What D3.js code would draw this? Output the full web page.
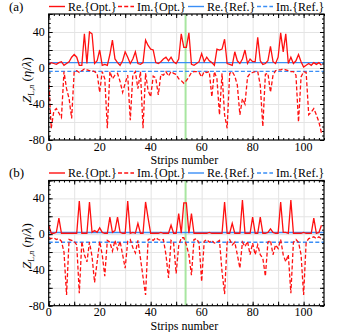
<!DOCTYPE html>
<html lang="en">
<head>
<meta charset="UTF-8">
<title>Z_Ln vs strips</title>
<script src="https://cdn.jsdelivr.net/npm/d3@7"></script>
<style>
  body { margin: 0; background: #fff; }
  svg text { font-family: "Liberation Serif", "Times New Roman", serif; fill: #000; }
  .grid line { stroke: #e4e4e4; stroke-width: 1; }
  .grid path { display: none; }
  .ticks path { display: none; }
  .ticks line { stroke: #000; stroke-width: 1; }
</style>
</head>
<body>
<script>
// strip index 0..107
const strips = d3.range(0, 108);

const reOptA = [4, 6, 5, 4, 6, 7, 3, 5, 7, 12,
  15, 12, 3, 3, 38, 5, 40, 38, 5, 8,
  20, 3, 4, 3, 15, 31, 10, 6, 3, 8,
  18, 12, 5, 10, 18, 5, 4, 6, 31, 25,
  21, 20, 6, 5, 7, 10, 12, 8, 12, 7,
  5, 10, 38, 23, 23, 39, 4, 3, 5, 7,
  16, 7, 12, 8, 6, 3, 21, 20, 21, 32,
  5, 4, 3, 18, 8, 5, 10, 20, 5, 10,
  7, 7, 34, 8, 4, 5, 8, 24, 7, 5,
  12, 39, 18, 38, 5, 12, 5, 8, 15, 7,
  1, 3, 5, 3, 6, 4, 6, 3];

const imOptA = [-12, -67, -48, -45, -50, -55, -4, -23, -34, -56,
  -4, -3, -5, -3, -1, -2, -3, -3, -4, -6,
  -27, -4, -12, -67, -4, -12, -8, -6, -15, -27,
  -17, -8, -58, -8, -4, -23, -4, -67, -6, -25,
  -32, -9, -11, -30, -7, -8, -4, -9, -4, -6,
  -7, -12, -14, -17, -14, -10, -5, -4, -4, -5,
  -10, -4, -5, -4, -32, -4, -12, -52, -6, -52,
  -67, -6, -4, -9, -19, -52, -34, -40, -10, -6,
  -5, -4, -4, -19, -65, -7, -6, -27, -8, -3,
  -2, -2, -1, -2, -3, -4, -4, -8, -60, -10,
  -4, -5, -52, -49, -45, -52, -60, -72];

const reOptB = [10, 1, 1, 2, 18, 1, 1, 1, 1, 1,
  1, 1, 37, 1, 1, 1, 36, 2, 4, 2,
  7, 2, 1, 1, 19, 2, 4, 19, 2, 1,
  1, 37, 1, 2, 1, 12, 1, 1, 36, 18,
  1, 1, 1, 1, 2, 1, 1, 1, 10, 1,
  1, 23, 1, 35, 35, 1, 23, 1, 1, 1,
  1, 1, 1, 2, 1, 1, 1, 1, 1, 36,
  1, 1, 12, 1, 1, 1, 38, 1, 1, 1,
  19, 1, 1, 19, 1, 1, 2, 6, 2, 1,
  1, 36, 2, 2, 1, 38, 1, 1, 1, 1,
  2, 1, 1, 1, 18, 1, 2, 10];

const imOptB = [-4, -5, -4, -6, -5, -8, -20, -68, -6, -7,
  -8, -12, -66, -8, -23, -31, -9, -25, -54, -31,
  -8, -23, -47, -7, -9, -19, -7, -17, -8, -23,
  -38, -8, -6, -15, -21, -7, -27, -48, -68, -6,
  -5, -7, -4, -6, -7, -6, -23, -49, -7, -10,
  -44, -13, -4, -4, -12, -23, -46, -6, -5, -10,
  -53, -8, -6, -9, -7, -10, -9, -7, -42, -67,
  -9, -6, -12, -9, -23, -38, -9, -14, -8, -23,
  -10, -23, -12, -23, -27, -47, -9, -7, -23, -12,
  -16, -6, -23, -31, -23, -66, -9, -6, -9, -23,
  -68, -9, -5, -4, -3, -5, -3, -5];

// reference (constant) levels for panel a, b
const reRef = [6, 1.8];
const imRef = [-3.8, -9];

const markStrip = 53.7;
const xTicks = [0, 20, 40, 60, 80, 100];
const yTicks = [40, 0, -40, -80];
const panelNames = ["(a)", "(b)"];
const legendNames = ["Re.{Opt.}", "Im.{Opt.}", "Re.{Ref.}", "Im.{Ref.}"];

const w = 340, h = 332;
const red = "#ff1010", blue = "#3a8ef6", green = "#a8e6a0";
const dash = "4,2.2";

const svg = d3.select("body").append("svg")
  .attr("width", w).attr("height", h);

const panels = [
  { top: 14, bottom: 140, re: reOptA, im: imOptA, ref: 0 },
  { top: 180.5, bottom: 305.7, re: reOptB, im: imOptB, ref: 1 }
];

const xScale = d3.scaleLinear().domain([0, 108]).range([48.7, 324]);

panels.forEach((p, i) => {
  const yScale = d3.scaleLinear().domain([-80, 60]).range([p.bottom, p.top]);
  const g = svg.append("g");
  const x0 = xScale.range()[0], x1 = xScale.range()[1];

  g.append("clipPath").attr("id", "clip" + i)
    .append("rect").attr("x", x0).attr("y", p.top)
    .attr("width", x1 - x0).attr("height", p.bottom - p.top);

  // grid
  g.append("g").attr("class", "grid")
    .attr("transform", "translate(0," + p.bottom + ")")
    .call(d3.axisBottom(xScale).tickValues(d3.range(10, 108, 10))
      .tickSize(-(p.bottom - p.top)).tickFormat(""));
  g.append("g").attr("class", "grid")
    .attr("transform", "translate(" + x0 + ",0)")
    .call(d3.axisLeft(yScale).tickValues(d3.range(-60, 60, 20))
      .tickSize(-(x1 - x0)).tickFormat(""));

  const plot = g.append("g").attr("clip-path", "url(#clip" + i + ")");

  // marker strip
  plot.append("line")
    .attr("x1", xScale(markStrip)).attr("x2", xScale(markStrip))
    .attr("y1", p.top).attr("y2", p.bottom)
    .attr("stroke", green).attr("stroke-width", 2);

  // reference levels
  plot.append("line")
    .attr("x1", x0).attr("x2", x1)
    .attr("y1", yScale(reRef[p.ref])).attr("y2", yScale(reRef[p.ref]))
    .attr("stroke", blue).attr("stroke-width", 1.4);
  plot.append("line")
    .attr("x1", x0).attr("x2", x1)
    .attr("y1", yScale(imRef[p.ref])).attr("y2", yScale(imRef[p.ref]))
    .attr("stroke", blue).attr("stroke-width", 1.4).attr("stroke-dasharray", dash);

  const line = d3.line().x((d, k) => xScale(strips[k])).y(d => yScale(d));
  plot.append("path").datum(p.re).attr("d", line)
    .attr("fill", "none").attr("stroke", red).attr("stroke-width", 1.3);
  plot.append("path").datum(p.im).attr("d", line)
    .attr("fill", "none").attr("stroke", red).attr("stroke-width", 1.3)
    .attr("stroke-dasharray", dash);

  // ticks, inward on all sides
  const major = 4, minor = 2;
  const tick = (axis, tr) => g.append("g").attr("class", "ticks")
    .attr("transform", tr).call(axis);
  tick(d3.axisBottom(xScale).tickValues(d3.range(0, 109, 10)).tickSize(-major).tickFormat(""), "translate(0," + p.bottom + ")");
  tick(d3.axisBottom(xScale).tickValues(d3.range(0, 109, 2)).tickSize(-minor).tickFormat(""), "translate(0," + p.bottom + ")");
  tick(d3.axisTop(xScale).tickValues(d3.range(0, 109, 10)).tickSize(-major).tickFormat(""), "translate(0," + p.top + ")");
  tick(d3.axisTop(xScale).tickValues(d3.range(0, 109, 2)).tickSize(-minor).tickFormat(""), "translate(0," + p.top + ")");
  tick(d3.axisLeft(yScale).tickValues(d3.range(-80, 61, 20)).tickSize(-major).tickFormat(""), "translate(" + x0 + ",0)");
  tick(d3.axisLeft(yScale).tickValues(d3.range(-80, 61, 5)).tickSize(-minor).tickFormat(""), "translate(" + x0 + ",0)");
  tick(d3.axisRight(yScale).tickValues(d3.range(-80, 61, 20)).tickSize(-major).tickFormat(""), "translate(" + x1 + ",0)");
  tick(d3.axisRight(yScale).tickValues(d3.range(-80, 61, 5)).tickSize(-minor).tickFormat(""), "translate(" + x1 + ",0)");

  // frame
  g.append("rect").attr("x", x0).attr("y", p.top)
    .attr("width", x1 - x0).attr("height", p.bottom - p.top)
    .attr("fill", "none").attr("stroke", "#000").attr("stroke-width", 1.2);

  // tick labels
  g.selectAll(".xl").data(xTicks).enter().append("text")
    .attr("x", d => xScale(d)).attr("y", p.bottom + 10.5)
    .attr("text-anchor", "middle").attr("font-size", 12)
    .text(d => d);
  g.selectAll(".yl").data(yTicks).enter().append("text")
    .attr("x", x0 - 4).attr("y", d => yScale(d) + 4)
    .attr("text-anchor", "end").attr("font-size", 12)
    .text(d => d);

  // axis titles
  g.append("text").attr("x", (x0 + x1) / 2 - 2).attr("y", p.bottom + 24)
    .attr("text-anchor", "middle").attr("font-size", 12)
    .text("Strips number");

  const yl = g.append("text")
    .attr("transform", "translate(31," + ((p.top + p.bottom) / 2 + 3) + ") rotate(-90)")
    .attr("text-anchor", "middle").attr("font-size", 13);
  yl.append("tspan").attr("font-style", "italic").text("Z");
  yl.append("tspan").attr("font-size", 8).attr("dy", 3).text("L,");
  yl.append("tspan").attr("font-size", 8).attr("font-style", "italic").text("n");
  yl.append("tspan").attr("dy", -3).text(" (");
  yl.append("tspan").attr("font-style", "italic").text("η");
  yl.append("tspan").text("/");
  yl.append("tspan").attr("font-style", "italic").text("λ");
  yl.append("tspan").text(")");

  // panel label and legend
  const ly = p.top - 7.5;
  g.append("text").attr("x", 9).attr("y", ly + 4).attr("font-size", 13).text(panelNames[i]);
  const items = [
    { x: 49, c: red, d: null },
    { x: 118, c: red, d: dash },
    { x: 188, c: blue, d: null },
    { x: 257, c: blue, d: dash }
  ];
  items.forEach((it, k) => {
    g.append("line").attr("x1", it.x).attr("x2", it.x + 16)
      .attr("y1", ly).attr("y2", ly)
      .attr("stroke", it.c).attr("stroke-width", 1.4)
      .attr("stroke-dasharray", it.d);
    g.append("text").attr("x", it.x + 19).attr("y", ly + 4)
      .attr("font-size", 12).text(legendNames[k]);
  });
});
</script>
</body>
</html>
